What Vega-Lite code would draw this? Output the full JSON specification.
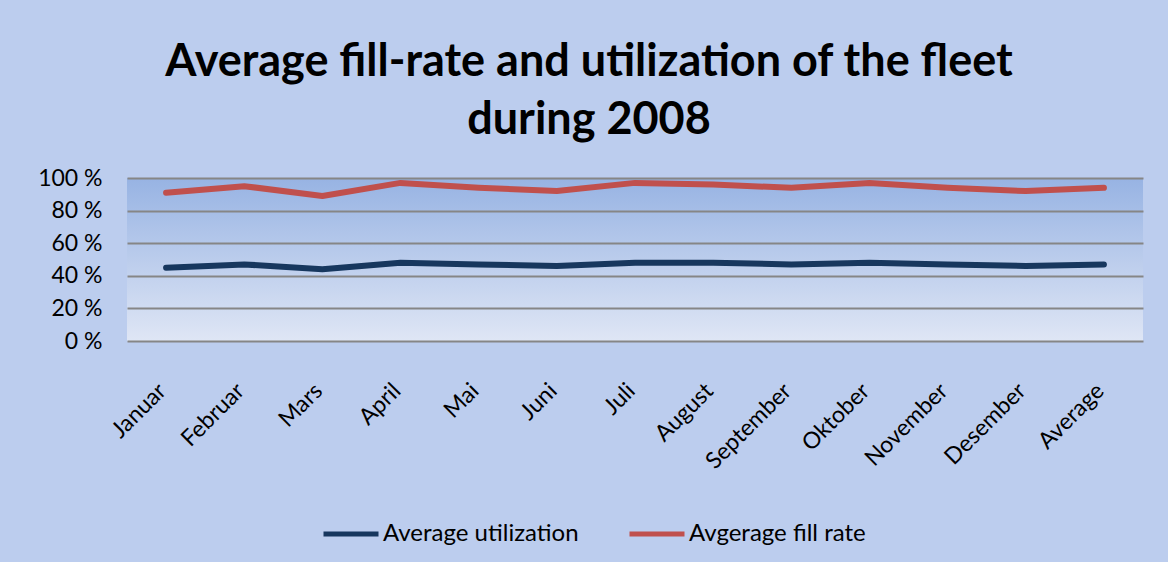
{
  "$schema": "https://vega.github.io/schema/vega-lite/v6.json",
  "width": 1016,
  "height": 163,
  "autosize": {"type": "none"},
  "padding": {"left": 127, "top": 178, "right": 25, "bottom": 221},
  "background": "#bccdee",
  "title": {
    "text": ["Average fill-rate and utilization of the fleet", "during 2008"],
    "font": "Lato",
    "fontSize": 45,
    "fontWeight": "bold",
    "color": "#000000",
    "lineHeight": 58,
    "anchor": "middle",
    "dx": -46,
    "offset": 24
  },
  "data": {
    "values": [
      {"month": "Januar", "series": "Average utilization", "value": 45},
      {"month": "Februar", "series": "Average utilization", "value": 47},
      {"month": "Mars", "series": "Average utilization", "value": 44},
      {"month": "April", "series": "Average utilization", "value": 48},
      {"month": "Mai", "series": "Average utilization", "value": 47},
      {"month": "Juni", "series": "Average utilization", "value": 46},
      {"month": "Juli", "series": "Average utilization", "value": 48},
      {"month": "August", "series": "Average utilization", "value": 48},
      {"month": "September", "series": "Average utilization", "value": 47},
      {"month": "Oktober", "series": "Average utilization", "value": 48},
      {"month": "November", "series": "Average utilization", "value": 47},
      {"month": "Desember", "series": "Average utilization", "value": 46},
      {"month": "Average", "series": "Average utilization", "value": 47},
      {"month": "Januar", "series": "Avgerage fill rate", "value": 91},
      {"month": "Februar", "series": "Avgerage fill rate", "value": 95},
      {"month": "Mars", "series": "Avgerage fill rate", "value": 89},
      {"month": "April", "series": "Avgerage fill rate", "value": 97},
      {"month": "Mai", "series": "Avgerage fill rate", "value": 94},
      {"month": "Juni", "series": "Avgerage fill rate", "value": 92},
      {"month": "Juli", "series": "Avgerage fill rate", "value": 97},
      {"month": "August", "series": "Avgerage fill rate", "value": 96},
      {"month": "September", "series": "Avgerage fill rate", "value": 94},
      {"month": "Oktober", "series": "Avgerage fill rate", "value": 97},
      {"month": "November", "series": "Avgerage fill rate", "value": 94},
      {"month": "Desember", "series": "Avgerage fill rate", "value": 92},
      {"month": "Average", "series": "Avgerage fill rate", "value": 94}
    ]
  },
  "mark": {"type": "line", "strokeWidth": 6, "strokeCap": "round", "strokeJoin": "round"},
  "encoding": {
    "x": {
      "field": "month",
      "type": "nominal",
      "sort": null,
      "scale": {"paddingInner": 0, "paddingOuter": 0.5},
      "axis": {
        "title": null,
        "labelAngle": -45,
        "labelAlign": "right",
        "labelBaseline": "middle",
        "labelPadding": 46,
        "labelOffset": -4,
        "labelFont": "Lato",
        "labelFontSize": 23,
        "labelColor": "#000000",
        "ticks": false,
        "domain": false,
        "grid": false
      }
    },
    "y": {
      "field": "value",
      "type": "quantitative",
      "scale": {"domain": [0, 100], "nice": false},
      "axis": {
        "title": null,
        "values": [0, 20, 40, 60, 80, 100],
        "labelExpr": "datum.value + ' %'",
        "labelFont": "Lato",
        "labelFontSize": 23,
        "labelColor": "#000000",
        "labelPadding": 25,
        "ticks": false,
        "domain": false,
        "grid": true,
        "gridColor": "#868686",
        "gridWidth": 2,
        "gridOpacity": 1
      }
    },
    "color": {
      "field": "series",
      "type": "nominal",
      "scale": {"domain": ["Average utilization", "Avgerage fill rate"], "range": ["#17375e", "#c0504d"]},
      "legend": {
        "title": null,
        "orient": "none",
        "direction": "horizontal",
        "legendX": 194,
        "legendY": 326,
        "symbolType": "stroke",
        "symbolSize": 3025,
        "symbolStrokeWidth": 5,
        "labelFont": "Lato",
        "labelFontSize": 24,
        "labelColor": "#000000",
        "labelOffset": 2,
        "columnPadding": 40,
        "labelLimit": 400
      }
    }
  },
  "config": {
    "view": {
      "stroke": null,
      "fill": {
        "gradient": "linear",
        "x1": 0, "y1": 0, "x2": 0, "y2": 1,
        "stops": [
          {"offset": 0, "color": "#97b3e3"},
          {"offset": 1, "color": "#dfe6f5"}
        ]
      }
    }
  }
}
